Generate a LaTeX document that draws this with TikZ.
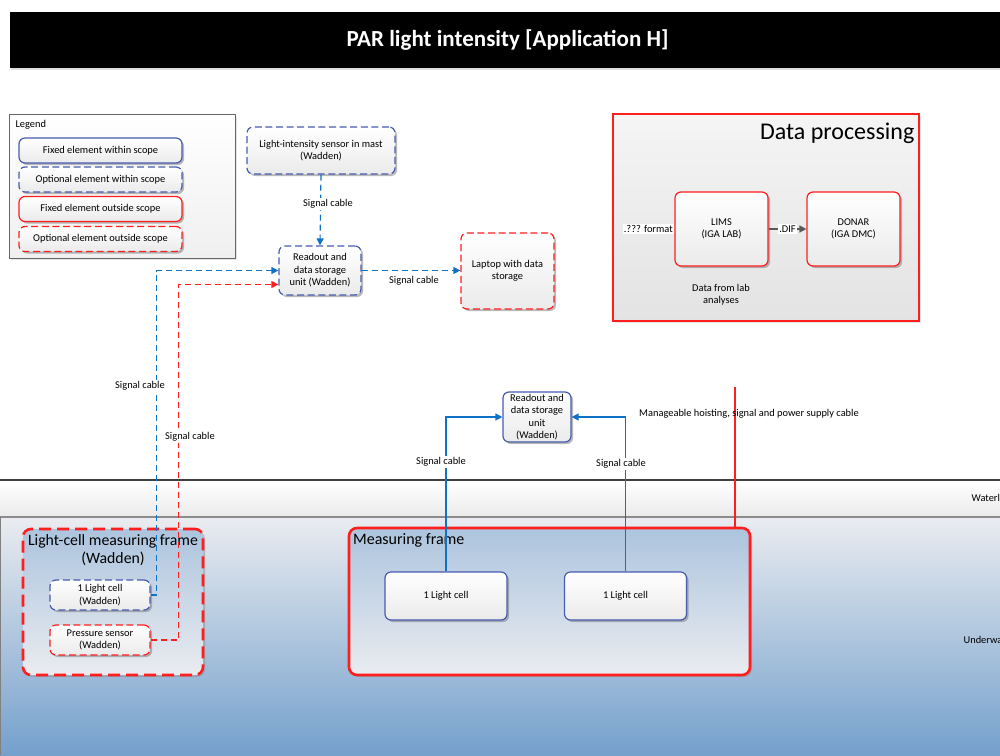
\documentclass[tikz,border=0pt]{standalone}
\usepackage{fontspec}
\setmainfont{Carlito}
\usetikzlibrary{shapes.geometric, arrows.meta, positioning, shadows, calc, backgrounds}
\definecolor{scopeblue}{RGB}{72,92,176}
\definecolor{cableblue}{RGB}{16,114,196}
\definecolor{outred}{RGB}{255,30,30}
\definecolor{seatop}{RGB}{234,236,240}
\definecolor{seabottom}{RGB}{116,160,204}
\definecolor{frametop}{RGB}{172,196,222}

\tikzset{
  box/.style={rectangle, rounded corners=3pt, line width=0.6pt, inner sep=1pt,
    top color=white, bottom color=black!8, align=center,
    font=\fontsize{5.2}{6.2}\selectfont,
    drop shadow={shadow xshift=1pt, shadow yshift=-1pt, fill=black!55}},
  fixedin/.style={box, draw=scopeblue},
  optin/.style={box, draw=scopeblue, dash pattern=on 3.5pt off 1.8pt},
  fixedout/.style={box, draw=outred},
  optout/.style={box, draw=outred, dash pattern=on 3.5pt off 1.8pt},
  framebox/.style={rectangle, rounded corners=4pt, line width=1.3pt,
    top color=frametop, bottom color=seatop,
    drop shadow={shadow xshift=1pt, shadow yshift=-1pt, fill=black!45}},
  cable/.style={line width=0.6pt, -{Triangle[length=3.5pt,width=3.5pt]}},
  optcable/.style={dash pattern=on 3pt off 2pt},
  cablelabel/.style={fill=white, inner sep=0.6pt, font=\fontsize{5.2}{6.2}\selectfont, align=center},
  plainlabel/.style={inner sep=0.6pt, font=\fontsize{5.2}{6.2}\selectfont, align=center}
}

\begin{document}
\begin{tikzpicture}[x=0.5pt, y=-0.5pt]
    \useasboundingbox (0,0) rectangle (1000,755);
    \clip (0,0) rectangle (1000,755);

    % Wasserlinie und Unterwasser
    \shade[top color=white, bottom color=black!8] (0,480) rectangle (1000,517);
    \shade[top color=seatop, bottom color=seabottom] (0,517) rectangle (1000,755);
    \draw[black!75, line width=0.6pt] (0,480) -- (1000,480);
    \draw[black!45, line width=0.6pt] (0,517) -- (1000,517);
    \draw[black!50, line width=0.6pt] (0.5,517) -- (0.5,755);
    \node[plainlabel, anchor=west] (waterline) at (970,498) {Waterline};
    \node[plainlabel, anchor=west] (underwater) at (962,640) {Underwater};

    % Titel
    \node[rectangle, fill=black, minimum width=497.5pt, minimum height=28pt,
      drop shadow={shadow xshift=0.5pt, shadow yshift=-1pt, fill=black!25},
      text=white, font=\fontsize{11.5}{13}\selectfont\bfseries] (title) at (507.5,40) {PAR light intensity [Application H]};

    % Legende
    \node[rectangle, draw=black!60, line width=0.5pt, top color=white, bottom color=black!6,
      minimum width=113pt, minimum height=72pt,
      drop shadow={shadow xshift=1pt, shadow yshift=-1pt, fill=black!20}] (legend) at (122,186) {};
    \node[plainlabel, anchor=west] (legendtitle) at (14,125) {Legend};
    \node[fixedin, minimum width=81.5pt, minimum height=12.5pt] (lgfixin) at (100.5,150.5) {Fixed element within scope};
    \node[optin, minimum width=81.5pt, minimum height=12.5pt] (lgoptin) at (100.5,179.5) {Optional element within scope};
    \node[fixedout, minimum width=81.5pt, minimum height=12.5pt] (lgfixout) at (100.5,209) {Fixed element outside scope};
    \node[optout, minimum width=81.5pt, minimum height=12.5pt] (lgoptout) at (100.5,239) {Optional element outside scope};

    % Datenverarbeitung
    \node[rectangle, draw=outred, line width=0.7pt, top color=black!4, bottom color=black!11,
      minimum width=153pt, minimum height=103.5pt,
      drop shadow={shadow xshift=1pt, shadow yshift=-1pt, fill=black!20}] (dp) at (766,217.5) {};
    \node[anchor=north east, inner sep=0pt, font=\fontsize{12}{14}\selectfont] (dptitle) at ($(dp.north east)+(-5,9)$) {Data processing};
    \node[fixedout, minimum width=46.5pt, minimum height=37pt] (lims) at (721.5,229) {LIMS\\(IGA LAB)};
    \node[fixedout, minimum width=46.5pt, minimum height=37pt] (donar) at (853.5,229) {DONAR\\(IGA DMC)};
    \node[plainlabel] (labdata) at (721,295) {Data from lab\\analyses};
    \coordinate (fmt) at (625,229);
    \draw[black!70, line width=0.6pt] (fmt) -- (lims.west);
    \node[cablelabel, anchor=east] (fmtlabel) at (lims.west) {.??? format};
    \draw[black!65, line width=0.8pt, -{Triangle[length=3.5pt,width=3.5pt]}] (lims) -- (donar);
    \node[cablelabel] (diflabel) at ($(lims.east)!0.5!(donar.west)$) {.DIF};

    % Mast
    \node[optin, minimum width=74pt, minimum height=23.5pt] (sensor) at (321,150.5) {Light-intensity sensor in mast\\(Wadden)};
    \node[optin, minimum width=41pt, minimum height=24.5pt] (ro1) at (320,270.5) {Readout and\\data storage\\unit (Wadden)};
    \node[optout, minimum width=46.5pt, minimum height=38pt] (laptop) at (507.5,271) {Laptop with data\\storage};

    % Messrahmen Wadden
    \node[framebox, draw=outred, dash pattern=on 6pt off 3pt, minimum width=90pt, minimum height=73pt] (lcmf) at (113,602) {};
    \node[anchor=north, inner sep=0pt, align=center, font=\fontsize{7.9}{9.4}\selectfont] (lcmftitle) at ($(lcmf.north)+(0,6)$) {Light-cell measuring frame\\(Wadden)};
    \node[optin, minimum width=50pt, minimum height=15pt] (lcw) at (100,595) {1 Light cell\\(Wadden)};
    \node[optout, minimum width=50pt, minimum height=15pt] (ps) at (100,640) {Pressure sensor\\(Wadden)};

    % Messrahmen
    \node[framebox, draw=outred, minimum width=200.5pt, minimum height=73.5pt] (mf) at (549.5,601.5) {};
    \node[anchor=north west, inner sep=0pt, font=\fontsize{8}{9.6}\selectfont] (mftitle) at ($(mf.north west)+(5,6)$) {Measuring frame};
    \node[fixedin, minimum width=61pt, minimum height=24pt] (lc1) at (446,596) {1 Light cell};
    \node[fixedin, minimum width=61pt, minimum height=24pt] (lc2) at (625.5,596) {1 Light cell};
    \node[fixedin, minimum width=34pt, minimum height=25pt] (ro2) at (537,417) {Readout and\\data storage\\unit\\(Wadden)};

    % Kabel
    \draw[cable, optcable, cableblue] (sensor.south) -- (ro1.north);
    \draw[cable, optcable, cableblue] (ro1.east) -- (ro1.east -| laptop.west);
    \draw[cable, optcable, cableblue] (lcw.east) -- ++(6,0) |- (ro1.west);
    \draw[cable, optcable, outred] (ps.east) -- ++(28,0) |- ($(ro1.west)+(0,14)$);
    \draw[cable, cableblue] (lc1.north) |- (ro2.west);
    \draw[cable, cableblue] (lc2.north) |- (ro2.east);
    \coordinate (hoist) at (735,387);
    \draw[outred, line width=0.8pt] (hoist) -- (hoist |- mf.north);

    % Beschriftungen
    \node[cablelabel] (sig1) at (328,204) {Signal cable};
    \node[cablelabel] (sig2) at (414,281) {Signal cable};
    \node[cablelabel] (sig3) at (140,386) {Signal cable};
    \node[cablelabel] (sig4) at (190,437) {Signal cable};
    \node[cablelabel] (sig5) at (441,462) {Signal cable};
    \node[cablelabel] (sig6) at (621,464) {Signal cable};
    \node[plainlabel] (hoistlabel) at (749,414) {Manageable hoisting, signal and power supply cable};
\end{tikzpicture}
\end{document}
